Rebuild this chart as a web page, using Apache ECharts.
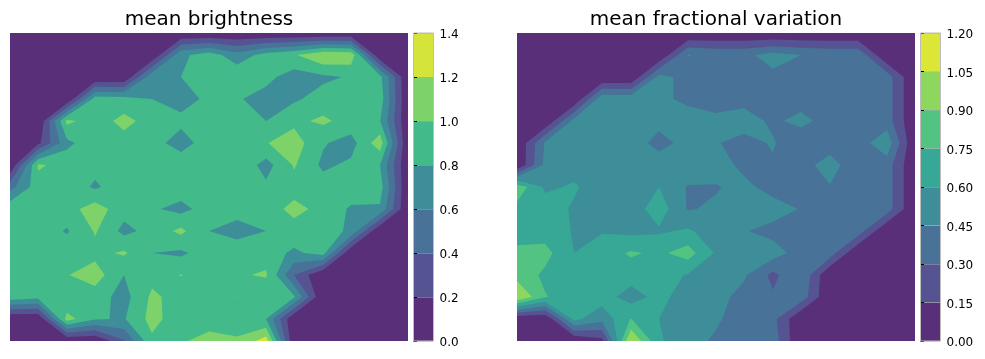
<!DOCTYPE html>
<html>
<head>
<meta charset="utf-8">
<style>html,body{margin:0;padding:0;background:#fff}#c{width:985px;height:359px}</style>
<script src="https://cdn.jsdelivr.net/npm/echarts@6/dist/echarts.min.js"></script>
</head>
<body>
<div id="c"></div>
<script>
// mean brightness: values on the 15 x 15 sample lattice, top row first
const brightnessRow00=[0,0,0,0,0,0,0,0,0,0,0,0,0,0,0];
const brightnessRow01=[0,0,0,0,0,0,.75,.9,.68,.88,.98,1.18,1.14,0,0];
const brightnessRow02=[0,0,0,0,0,.75,.8,.88,.95,.86,.7,.76,.82,.87,0];
const brightnessRow03=[0,0,0,.9,.88,.8,.72,.84,.82,.72,.77,.88,.92,.92,0];
const brightnessRow04=[0,0,1.05,.9,1.06,.92,.85,.92,.92,.8,.95,1.04,.92,.82,0];
const brightnessRow05=[0,.15,.75,.93,.92,.88,.71,.9,.92,.99,1.1,.82,.72,1.12,0];
const brightnessRow06=[0,1.03,.92,.86,.92,.92,.93,.92,.97,.72,1.02,.76,.84,.8,0];
const brightnessRow07=[.52,.92,.92,.77,.92,.92,.92,.92,.92,.84,.93,.89,.93,.9,0];
const brightnessRow08=[.95,.93,.92,1.1,.88,.83,.73,.9,.9,.92,1.05,.95,.77,.77,0];
const brightnessRow09=[.92,.92,.78,1.02,.74,.87,1.05,.8,.7,.8,.93,.9,.76,0,0];
const brightnessRow10=[.92,.92,.92,.94,1.03,.8,.76,.9,.96,.9,.76,.88,0,0,0];
const brightnessRow11=[.92,.93,.99,1.1,.8,.94,1.005,.95,.97,1.03,.4,0,0,0,0];
const brightnessRow12=[.92,.86,.8,.9,.72,1.04,.92,.92,1.002,.8,.83,0,0,0,0];
const brightnessRow13=[0,0,1.08,.82,.78,1.07,.88,.92,.92,.8,0,0,0,0,0];
const brightnessRow14=[0,0,0,0,.38,.96,.98,1.06,1.02,1.3,0,0,0,0,0];
// mean fractional variation
const variationRow00=[0,0,0,0,0,0,0,0,0,0,0,0,0,0,0];
const variationRow01=[0,0,0,0,0,0,.455,.42,.42,.5,.45,.42,.42,0,0];
const variationRow02=[0,0,0,0,0,.5,.4,.38,.38,.42,.38,.38,.38,.38,0];
const variationRow03=[0,0,0,.56,.55,.5,.4,.38,.4,.39,.38,.38,.38,.38,0];
const variationRow04=[0,0,.5,.55,.55,.5,.55,.49,.52,.42,.5,.38,.38,.38,0];
const variationRow05=[0,.47,.52,.54,.54,.39,.51,.46,.4,.465,.33,.36,.38,.55,0];
const variationRow06=[0,.5,.53,.55,.55,.54,.55,.52,.41,.43,.38,.53,.32,.38,0];
const variationRow07=[.85,.57,.62,.52,.54,.6,.44,.44,.49,.39,.38,.44,.38,.38,0];
const variationRow08=[.7,.68,.58,.52,.52,.68,.44,.47,.52,.52,.44,.38,.38,.38,0];
const variationRow09=[.66,.68,.59,.59,.56,.58,.62,.53,.46,.4,.38,.38,.38,0,0];
const variationRow10=[.8,.8,.6,.67,.77,.72,.82,.58,.54,.52,.38,.38,0,0,0];
const variationRow11=[.84,.72,.68,.68,.67,.66,.59,.5,.47,.26,.44,0,0,0,0];
const variationRow12=[1.06,.76,.66,.67,.53,.65,.52,.5,.4,.32,.39,0,0,0,0];
const variationRow13=[0,0,.64,.5,.755,.6,.52,.47,.38,.35,0,0,0,0,0];
const variationRow14=[0,0,0,.1,1.06,.62,.5,.43,.38,.38,0,0,0,0,0];
// contour levels and band colours
const brightnessLevels=[0,.2,.4,.6,.8,1,1.2,1.4];
const variationLevels=[0,.15,.3,.45,.6,.75,.9,1.05,1.2];
const brightnessColors=['#5a2f79','#555391','#487298','#3d8e99','#42ba8a','#7dd369','#d5e43a'];
const variationColors=['#5a2f79','#555391','#487298','#3d8e99','#37a895','#53c381','#8ed75e','#dbe637'];
const titles=['mean brightness','mean fractional variation'];

const brightnessGrid=[brightnessRow00,brightnessRow01,brightnessRow02,brightnessRow03,brightnessRow04,brightnessRow05,brightnessRow06,brightnessRow07,brightnessRow08,brightnessRow09,brightnessRow10,brightnessRow11,brightnessRow12,brightnessRow13,brightnessRow14];
const variationGrid=[variationRow00,variationRow01,variationRow02,variationRow03,variationRow04,variationRow05,variationRow06,variationRow07,variationRow08,variationRow09,variationRow10,variationRow11,variationRow12,variationRow13,variationRow14];

function clipAbove(poly,L){
  const out=[];
  for(let i=0;i<poly.length;i++){
    const a=poly[i],b=poly[(i+1)%poly.length];
    const ai=a[2]>=L,bi=b[2]>=L;
    if(ai)out.push(a);
    if(ai!==bi){
      const t=(L-a[2])/(b[2]-a[2]);
      out.push([a[0]+t*(b[0]-a[0]),a[1]+t*(b[1]-a[1]),L]);
    }
  }
  return out;
}
function quadParts(p,L){
  const s=p.map(q=>q[2]>=L);
  const saddle=s[0]===s[2]&&s[1]===s[3]&&s[0]!==s[1];
  if(saddle){
    const mean=(p[0][2]+p[1][2]+p[2][2]+p[3][2])/4;
    if(mean<L){
      const parts=[];
      for(let k=0;k<4;k++){
        if(s[k]){
          const a=p[k],b=p[(k+1)%4],d=p[(k+3)%4];
          const t1=(L-a[2])/(b[2]-a[2]),t2=(L-a[2])/(d[2]-a[2]);
          parts.push([a,[a[0]+t1*(b[0]-a[0]),a[1]+t1*(b[1]-a[1]),L],[a[0]+t2*(d[0]-a[0]),a[1]+t2*(d[1]-a[1]),L]]);
        }
      }
      return parts;
    }
  }
  return [clipAbove(p,L)];
}
// one compound path per level; coordinates that lie on a lattice line are
// snapped to whole pixels so that neighbouring cells leave no seams
function contourRender(grid,level,color){
  return function(params,api){
    let d='',x0=Infinity,y0=Infinity,x1=-Infinity,y1=-Infinity;
    for(let r=0;r<grid.length-1;r++){
      for(let c=0;c<grid[r].length-1;c++){
        const p=[[c,r,grid[r][c]],[c+1,r,grid[r][c+1]],[c+1,r+1,grid[r+1][c+1]],[c,r+1,grid[r+1][c]]];
        quadParts(p,level).forEach(poly=>{
          if(poly.length<3)return;
          poly.forEach((q,i)=>{
            const pt=api.coord([q[0],q[1]]);
            const px=Number.isInteger(q[0])?Math.round(pt[0]):pt[0];
            const py=Number.isInteger(q[1])?Math.round(pt[1]):pt[1];
            x0=Math.min(x0,px);x1=Math.max(x1,px);
            y0=Math.min(y0,py);y1=Math.max(y1,py);
            d+=(i?'L':'M')+px.toFixed(2)+' '+py.toFixed(2);
          });
          d+='Z';
        });
      }
    }
    return {type:'path',silent:true,
      shape:{pathData:d,layout:'cover',x:x0,y:y0,width:x1-x0,height:y1-y0},
      style:{fill:color}};
  };
}

const FONT='"DejaVu Sans"';
const grids=[],xAxes=[],yAxes=[],series=[],titleOpt=[];
function panel(left,cbLeft,cbWidth,grid,levels,colors,title,tickDigits,tickStep){
  const g=grids.length;
  grids.push({left,top:33,width:398,height:308});
  xAxes.push({gridIndex:g,type:'value',min:0,max:14,show:false});
  yAxes.push({gridIndex:g,type:'value',min:0,max:14,inverse:true,show:false});
  colors.forEach((col,i)=>{
    series.push({type:'custom',xAxisIndex:g,yAxisIndex:g,data:[[levels[i],levels[i+1]]],silent:true,animation:false,clip:true,
      z:2+i*0.01,renderItem:contourRender(grid,levels[i],col)});
  });
  titleOpt.push({text:title,left:left+199,top:10,padding:0,textAlign:'center',
    textStyle:{fontFamily:FONT,fontSize:20,fontWeight:'normal',color:'#000'}});
  // colour bar
  const b=grids.length,top=levels[levels.length-1];
  grids.push({left:cbLeft,top:33,width:cbWidth,height:308});
  xAxes.push({gridIndex:b,type:'value',min:0,max:1,show:false});
  yAxes.push({gridIndex:b,type:'value',min:0,max:top,interval:tickStep,position:'right',z:3,
    axisLine:{show:false},
    axisTick:{show:true,length:3.5,lineStyle:{color:'#000',width:1}},
    splitLine:{show:true,lineStyle:{color:'#aaaaaa',width:1,type:'dotted'}},
    axisLabel:{show:true,margin:6,formatter:v=>'{v|'+v.toFixed(tickDigits)+'}',
      rich:{v:{fontFamily:FONT,fontSize:12,color:'#000',padding:[4,0,0,0]}}}});
  series.push({type:'custom',xAxisIndex:b,yAxisIndex:b,silent:true,animation:false,z:2,
    data:colors.map((c,i)=>[levels[i],levels[i+1]]),encode:{y:[0,1]},
    renderItem:(params,api)=>{
      const a=api.coord([0,api.value(0)]),d=api.coord([1,api.value(1)]);
      return {type:'rect',shape:{x:a[0],y:d[1],width:d[0]-a[0],height:a[1]-d[1]},
        style:{fill:colors[params.dataIndex]}};
    }});
  series.push({type:'custom',xAxisIndex:b,yAxisIndex:b,silent:true,animation:false,z:4,
    data:[[0,top]],encode:{y:[0,1]},
    renderItem:(params,api)=>{
      const a=api.coord([0,api.value(0)]),d=api.coord([1,api.value(1)]);
      return {type:'rect',shape:{x:a[0],y:d[1],width:d[0]-a[0],height:a[1]-d[1]},
        style:{fill:'none',stroke:'#bdbdbd',lineWidth:1}};
    }});
}
panel(10,413.5,20,brightnessGrid,brightnessLevels,brightnessColors,titles[0],1,.2);
panel(517,920.5,20,variationGrid,variationLevels,variationColors,titles[1],2,.15);

const chart=echarts.init(document.getElementById('c'),null,{renderer:'canvas'});
chart.setOption({animation:false,backgroundColor:'#fff',title:titleOpt,grid:grids,xAxis:xAxes,yAxis:yAxes,series});
</script>
</body>
</html>
